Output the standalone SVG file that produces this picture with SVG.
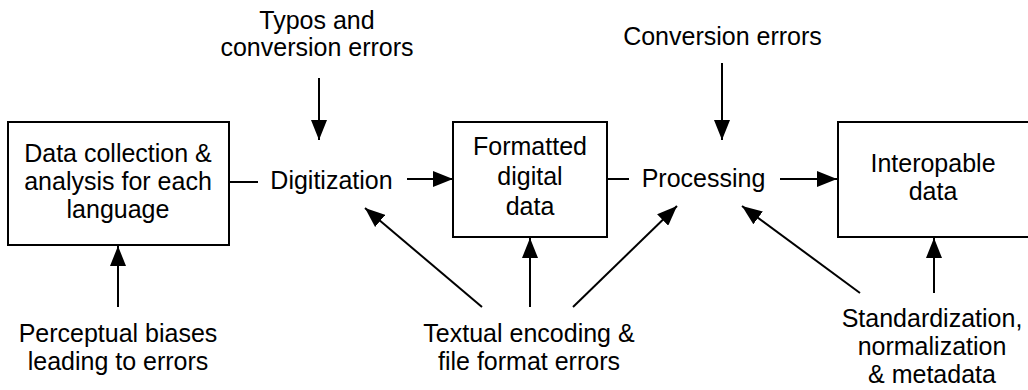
<svg xmlns="http://www.w3.org/2000/svg" width="1028" height="390" viewBox="0 0 1028 390">
  <style>
    .box { fill: #fff; stroke: #000; stroke-width: 2; }
    .lbl { font-family: "Liberation Sans", Arial, Helvetica, sans-serif; font-size: 25px; fill: #000; text-anchor: middle; }
    .edge { stroke: #000; stroke-width: 2; fill: none; }
    .arr { marker-end: url(#head); }
  </style>
  <defs>
    <marker id="head" markerUnits="userSpaceOnUse" markerWidth="20" markerHeight="16" refX="20" refY="8" orient="auto">
      <path d="M0,0 L20,8 L0,16 z" fill="#000"/>
    </marker>
  </defs>
  <rect width="1028" height="390" fill="#fff"/>

  <!-- main flow nodes -->
  <g id="collection">
    <rect class="box" x="8" y="122" width="221" height="123"/>
    <text class="lbl" x="118" y="162">Data collection &amp;</text>
    <text class="lbl" x="118" y="190">analysis for each</text>
    <text class="lbl" x="118" y="218">language</text>
  </g>
  <g id="digitization">
    <text class="lbl" x="331.5" y="189">Digitization</text>
  </g>
  <g id="formatted">
    <rect class="box" x="453" y="122" width="154" height="115"/>
    <text class="lbl" x="530" y="155">Formatted</text>
    <text class="lbl" x="530" y="185">digital</text>
    <text class="lbl" x="530" y="215">data</text>
  </g>
  <g id="processing">
    <text class="lbl" x="703.5" y="187">Processing</text>
  </g>
  <g id="interoperable">
    <rect class="box" x="838" y="122" width="200" height="115"/>
    <text class="lbl" x="933" y="172">Interopable</text>
    <text class="lbl" x="933" y="200">data</text>
  </g>

  <!-- error sources -->
  <g id="typos">
    <text class="lbl" x="317" y="29">Typos and</text>
    <text class="lbl" x="317" y="56">conversion errors</text>
  </g>
  <g id="conversion">
    <text class="lbl" x="722.5" y="45">Conversion errors</text>
  </g>
  <g id="perceptual">
    <text class="lbl" x="118" y="342">Perceptual biases</text>
    <text class="lbl" x="118" y="370">leading to errors</text>
  </g>
  <g id="encoding">
    <text class="lbl" x="529" y="342">Textual encoding &amp;</text>
    <text class="lbl" x="529" y="370">file format errors</text>
  </g>
  <g id="standardization">
    <text class="lbl" x="932" y="327">Standardization,</text>
    <text class="lbl" x="932" y="355">normalization</text>
    <text class="lbl" x="932" y="383">&amp; metadata</text>
  </g>

  <!-- connectors -->
  <g id="connectors">
    <line class="edge" x1="229" y1="182" x2="258" y2="182"/>
    <line class="edge arr" x1="407" y1="179" x2="453" y2="179"/>
    <line class="edge" x1="607" y1="179" x2="629" y2="179"/>
    <line class="edge arr" x1="780" y1="179" x2="837" y2="179"/>

    <line class="edge arr" x1="319" y1="78" x2="319" y2="140"/>
    <line class="edge arr" x1="722" y1="63" x2="722" y2="140"/>

    <line class="edge arr" x1="118" y1="307" x2="118" y2="246"/>
    <line class="edge arr" x1="530" y1="307" x2="530" y2="238"/>
    <line class="edge arr" x1="482" y1="307" x2="365" y2="208"/>
    <line class="edge arr" x1="573" y1="307" x2="677" y2="206"/>
    <line class="edge arr" x1="860" y1="293" x2="742" y2="206"/>
    <line class="edge arr" x1="934" y1="293" x2="934" y2="238"/>
  </g>
</svg>
